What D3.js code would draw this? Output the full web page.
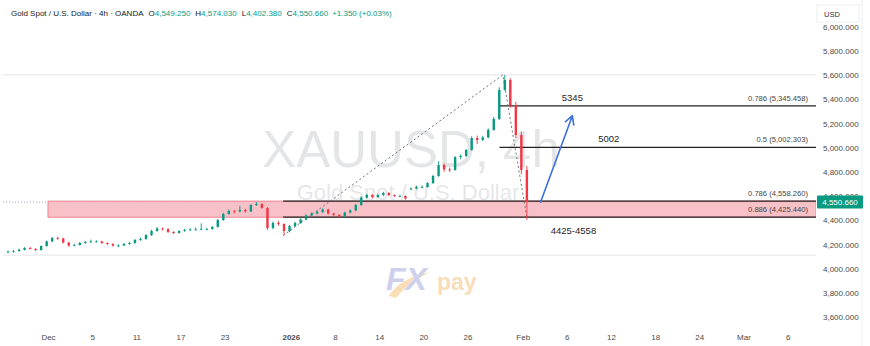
<!DOCTYPE html>
<html>
<head>
<meta charset="utf-8">
<script src="https://cdn.jsdelivr.net/npm/d3@7"></script>
<style>
  html, body { margin: 0; padding: 0; background: #fff; }
  svg { display: block; font-family: "Liberation Sans", Arial, sans-serif; }
  .axis text { fill: #4a4a4a; font-size: 8px; }
  .axis .domain, .axis line { display: none; }
</style>
</head>
<body>
<svg id="chart" width="870" height="346"></svg>
<script>
// 12h candles (trading days counted from Dec 1)
const firstBarDay = -3.62;
const barStep = 0.5;
const opens = [4135,4140,4146,4156,4171,4163,4154,4187,4225,4253, 4249,4216,4191,4196,4212,4220,4225,4225,4212,4204,
  4191,4191,4204,4212,4237,4245,4278,4311,4332,4328, 4303,4295,4311,4320,4324,4324,4328,4328,4345,4402,
  4452,4477,4473,4485,4473,4526,4535,4502,4336,4378, 4369,4311,4353,4378,4407,4440,4456,4469,4489,4456,
  4444,4431,4464,4481,4526,4588,4609,4592,4609,4626, 4609,4601,4601,4655,4662,4675,4675,4708,4766,4857,
  4820,4816,4923,4932,4981,5080,5064,5085,5147,5238, 5478,5560,5353,5105,4816];
const highs = [4150,4155,4165,4178,4180,4168,4192,4232,4262,4264, 4255,4222,4205,4220,4230,4240,4235,4230,4218,4210,
  4200,4212,4222,4245,4258,4285,4322,4345,4340,4333, 4310,4318,4330,4333,4340,4375,4338,4352,4410,4462,
  4490,4485,4520,4495,4532,4550,4540,4508,4390,4395, 4375,4362,4388,4415,4448,4465,4478,4498,4495,4462,
  4450,4470,4490,4535,4598,4620,4618,4618,4635,4632, 4615,4612,4606,4672,4685,4688,4715,4775,4888,4870,
  4835,4930,4945,4990,5095,5100,5098,5160,5255,5500, 5602,5575,5380,5130,4850];
const lows = [4128,4132,4140,4150,4158,4145,4150,4182,4220,4238, 4208,4180,4185,4190,4205,4212,4215,4205,4196,4182,
  4178,4186,4198,4206,4230,4240,4270,4305,4315,4295, 4285,4290,4305,4312,4315,4318,4318,4322,4340,4395,
  4445,4455,4465,4462,4468,4518,4495,4320,4325,4355, 4274,4300,4345,4370,4400,4432,4448,4460,4448,4435,
  4420,4425,4458,4475,4520,4580,4582,4585,4600,4600, 4592,4590,4570,4648,4655,4665,4670,4700,4760,4800,
  4800,4810,4905,4925,4975,5030,5055,5078,5140,5230, 5470,5330,5080,4780,4402.38];
const closes = [4140,4146,4156,4171,4163,4154,4187,4225,4253,4249, 4216,4191,4196,4212,4220,4225,4225,4212,4204,4191,
  4191,4204,4212,4237,4245,4278,4311,4332,4328,4303, 4295,4311,4320,4324,4324,4328,4328,4345,4402,4452,
  4477,4473,4485,4473,4526,4535,4502,4336,4378,4369, 4311,4353,4378,4407,4440,4456,4469,4489,4456,4444,
  4431,4464,4481,4526,4588,4609,4592,4609,4626,4609, 4601,4601,4580,4662,4675,4675,4708,4766,4857,4820,
  4816,4923,4932,4981,5080,5064,5085,5147,5238,5478, 5560,5353,5105,4816,4550.66];

const xTickDays   = [0, 4, 8, 12, 16, 22, 26, 30, 34, 38, 43, 47, 51, 55, 59, 63, 67];
const xTickLabels = ["Dec","5","11","17","23","2026","8","14","20","26","Feb","6","12","18","24","Mar","6"];
const yTicks = [3600, 3800, 4000, 4200, 4400, 4600, 4800, 5000, 5200, 5400, 5600, 5800, 6000];

const lastPrice = 4550.66;
const guideLevels = [5602.2, 4112];
const fibLevels  = [5345.458, 5002.303, 4558.26, 4425.44];
const fibLabels  = ["0.786 (5,345.458)", "0.5 (5,002.303)", "0.786 (4,558.260)", "0.886 (4,425.440)"];
const fibStartDay = [40.9, 40.9, 21.3, 21.3];
const zoneLow = 4425.44, zoneHigh = 4558.26, zoneStartDay = 0;
const targetLabels = ["5345", "5002", "4425-4558"];
const targetDay    = [47.5, 50.8, 47.6];
const targetPrice  = [5390, 5048, 4290];
const trendDays   = [21.3, 41.2, 43.4];
const trendPrices = [4274, 5602.2, 4410];
const arrowDays   = [44.6, 47.5];
const arrowPrices = [4545, 5265];

const svg = d3.select("#chart");
const plotL = 3, plotR = 816, plotB = 322;

const x = d3.scaleLinear().domain([-4.076, 69.57]).range([plotL, plotR]);
const y = d3.scaleLinear().domain([3600, 6000]).range([317, 26.8]);

svg.append("clipPath").attr("id", "plot").append("rect")
  .attr("x", plotL).attr("y", 0).attr("width", plotR - plotL).attr("height", plotB);

const plot = svg.append("g").attr("clip-path", "url(#plot)");

// faint guide levels
plot.selectAll(".guide").data(guideLevels).enter().append("line")
  .attr("x1", plotL).attr("x2", plotR)
  .attr("y1", d => y(d)).attr("y2", d => y(d))
  .attr("stroke", "#e3e4ea").attr("stroke-width", 1);

// watermark
plot.append("text").attr("x", 411).attr("y", 167).attr("text-anchor", "middle")
  .attr("font-size", 51).attr("fill", "#787b86").attr("fill-opacity", 0.2)
  .text("XAUUSD, 4h");
plot.append("text").attr("x", 408).attr("y", 200).attr("text-anchor", "middle")
  .attr("font-size", 22).attr("fill", "#787b86").attr("fill-opacity", 0.2)
  .text("Gold Spot / U.S. Dollar");

// FXpay logo
const logo = plot.append("g").attr("opacity", 0.55);
logo.append("path").attr("d", "M389,296 Q400,278 430,272 Q408,282 396,298 Z").attr("fill", "#f5c27a");
logo.append("text").attr("x", 386).attr("y", 290).attr("font-size", 32).attr("font-weight", "bold")
  .attr("font-style", "italic").attr("fill", "#a9abe0").text("FX");
logo.append("text").attr("x", 437).attr("y", 290).attr("font-size", 23).attr("font-weight", "bold")
  .attr("fill", "#f4c383").text("pay");

// last price dotted line
plot.append("line").attr("x1", plotL).attr("x2", plotR)
  .attr("y1", y(lastPrice)).attr("y2", y(lastPrice))
  .attr("stroke", "#a49ad8").attr("stroke-width", 1).attr("stroke-dasharray", "1,2");

// demand zone
plot.append("rect")
  .attr("x", x(zoneStartDay)).attr("y", y(zoneHigh))
  .attr("width", plotR - x(zoneStartDay)).attr("height", y(zoneLow) - y(zoneHigh))
  .attr("fill", "#f7b6bd").attr("fill-opacity", 0.85)
  .attr("stroke", "#ef8590").attr("stroke-width", 1);

// fib lines
plot.selectAll(".fib").data(fibLevels).enter().append("line")
  .attr("x1", (d, i) => x(fibStartDay[i])).attr("x2", plotR)
  .attr("y1", d => y(d)).attr("y2", d => y(d))
  .attr("stroke", "#222").attr("stroke-width", 1.3);

plot.selectAll(".fibl").data(fibLevels).enter().append("text")
  .attr("x", plotR - 8).attr("y", d => y(d) - 5)
  .attr("text-anchor", "end").attr("font-size", 7.6).attr("fill", "#444")
  .text((d, i) => fibLabels[i]);

// dashed trend lines
const trend = trendDays.map((d, i) => [x(d), y(trendPrices[i])]);
plot.append("path").attr("d", d3.line()(trend))
  .attr("fill", "none").attr("stroke", "#6f727c").attr("stroke-width", 1).attr("stroke-dasharray", "2,2.5");

// candles
const bars = closes.map((c, i) => ({
  day: firstBarDay + i * barStep, o: opens[i], h: highs[i], l: lows[i], c: c
}));
const up = "#089981", down = "#f23645";
const cg = plot.selectAll(".candle").data(bars).enter().append("g");
cg.append("line")
  .attr("x1", d => x(d.day)).attr("x2", d => x(d.day))
  .attr("y1", d => y(d.h)).attr("y2", d => y(d.l))
  .attr("stroke", d => d.c >= d.o ? up : down).attr("stroke-width", 0.9);
cg.append("rect")
  .attr("x", d => x(d.day) - 1.2).attr("width", 2.4)
  .attr("y", d => y(Math.max(d.o, d.c)))
  .attr("height", d => Math.max(0.8, Math.abs(y(d.o) - y(d.c))))
  .attr("fill", d => d.c >= d.o ? up : down);

// blue projection arrow
const a0 = [x(arrowDays[0]), y(arrowPrices[0])], a1 = [x(arrowDays[1]), y(arrowPrices[1])];
const ang = Math.atan2(a1[1] - a0[1], a1[0] - a0[0]);
const head = 10, spread = 0.5;
plot.append("path")
  .attr("d", d3.line()([a0, a1]) + d3.line()([
    [a1[0] - head * Math.cos(ang - spread), a1[1] - head * Math.sin(ang - spread)], a1,
    [a1[0] - head * Math.cos(ang + spread), a1[1] - head * Math.sin(ang + spread)]]))
  .attr("fill", "none").attr("stroke", "#3d6fe0").attr("stroke-width", 1.6).attr("stroke-linejoin", "round");

// target labels
plot.selectAll(".tl").data(targetLabels).enter().append("text")
  .attr("x", (d, i) => x(targetDay[i])).attr("y", (d, i) => y(targetPrice[i]))
  .attr("text-anchor", "middle").attr("font-size", 9.5).attr("fill", "#1e1e1e")
  .text(d => d);

// price axis
svg.append("g").attr("class", "axis")
  .attr("transform", `translate(${plotR},0)`)
  .call(d3.axisRight(y).tickValues(yTicks).tickSize(0).tickPadding(7).tickFormat(d3.format(",.3f")));

// time axis
svg.append("g").attr("class", "axis")
  .attr("transform", `translate(0,${plotB + 6})`)
  .call(d3.axisBottom(x).tickValues(xTickDays).tickSize(0).tickPadding(6)
    .tickFormat((d, i) => xTickLabels[i]))
  .call(g => g.selectAll("text").attr("font-weight", (d, i) => xTickLabels[i] === "2026" ? "bold" : null));

// separators
svg.append("line").attr("x1", 862).attr("x2", 862).attr("y1", 0).attr("y2", 346)
  .attr("stroke", "#eceef2");

// USD box
svg.append("rect").attr("x", 817).attr("y", 5).attr("width", 42).attr("height", 17)
  .attr("fill", "#fff").attr("stroke", "#eceef2");
svg.append("text").attr("x", 824).attr("y", 16.5).attr("font-size", 7.5).attr("fill", "#333").text("USD");

// last price tag
svg.append("rect").attr("x", plotR + 1).attr("y", y(lastPrice) - 6.5).attr("width", 46).attr("height", 13)
  .attr("rx", 1).attr("fill", "#089981");
svg.append("text").attr("x", plotR + 24).attr("y", y(lastPrice) + 3)
  .attr("text-anchor", "middle").attr("font-size", 8).attr("fill", "#fff")
  .text(d3.format(",.3f")(lastPrice));

// header legend
const hdr = svg.append("text").attr("x", 11).attr("y", 16).attr("font-size", 8).attr("fill", "#131722");
hdr.append("tspan").text("Gold Spot / U.S. Dollar · 4h · OANDA");
[["O", "4,549.250"], ["H", "4,574.030"], ["L", "4,402.380"], ["C", "4,550.660"]].forEach(p => {
  hdr.append("tspan").attr("dx", 5).text(p[0]);
  hdr.append("tspan").attr("fill", "#089981").text(p[1]);
});
hdr.append("tspan").attr("dx", 4).attr("fill", "#089981").text("+1.350 (+0.03%)");
</script>
</body>
</html>
